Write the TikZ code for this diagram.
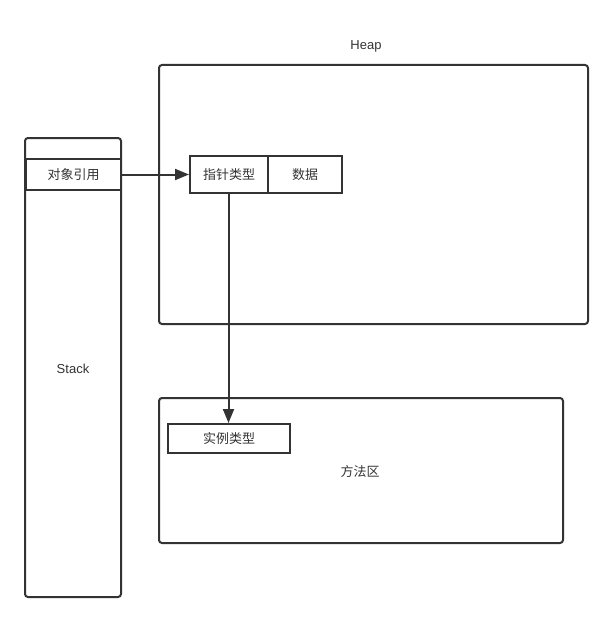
\documentclass[tikz,border=0pt]{standalone}
\usepackage{fontspec}
\setmainfont{Liberation Sans}
\newfontfamily\cjk{Noto Sans CJK SC}
\usetikzlibrary{arrows.meta}
\definecolor{ln}{HTML}{333333}
\definecolor{tx}{HTML}{333333}
\begin{document}
\begin{tikzpicture}[x=1pt,y=-1pt,
  area/.style={draw=ln,line width=2pt,rounded corners=3pt},
  cell/.style={draw=ln,line width=2pt,anchor=north west,inner sep=0pt,font=\cjk\fontsize{13}{15}\selectfont,text=tx},
  lbl/.style={font=\fontsize{13}{15}\selectfont,text=tx},
  conn/.style={draw=ln,line width=2pt,-{Triangle[length=14pt,width=11pt]}}]
\useasboundingbox (0,0) rectangle (613,623);
\draw[area] (25,138) rectangle (121,597);
\draw[area] (159,65) rectangle (588,324);
\draw[area] (159,398) rectangle (563,543);
\node[lbl] (heaplbl) at (366,46) {Heap};
\node[lbl] (stacklbl) at (73,369) {Stack};
\node[lbl,font=\cjk\fontsize{13}{15}\selectfont] (mlbl) at (360,472) {方法区};
\node[cell,minimum width=95pt,minimum height=31pt] (ref) at (25,158) {对象引用};
\node[cell,minimum width=78pt,minimum height=37pt] (ptr) at (189,155) {指针类型};
\node[cell,minimum width=74pt,minimum height=37pt] (data) at (267,155) {数据};
\node[cell,minimum width=122pt,minimum height=29pt] (inst) at (167,423) {实例类型};
\draw[conn] (ref.east) -- (ptr.west);
\draw[conn] (ptr.south) ++(-0.5,0) coordinate (s) -- (s |- inst.north);
\end{tikzpicture}
\end{document}
